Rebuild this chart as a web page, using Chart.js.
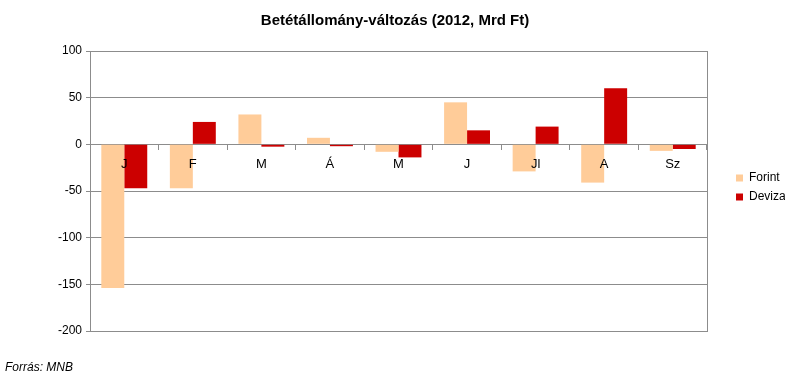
<!DOCTYPE html>
<html>
<head>
<meta charset="utf-8">
<script src="https://cdn.jsdelivr.net/npm/chart.js@4.4.0/dist/chart.umd.min.js"></script>
<style>
  html, body { margin: 0; padding: 0; background: #fff; }
  #wrap { position: relative; width: 790px; height: 375px; }
</style>
</head>
<body>
<div id="wrap"><canvas id="betetChart" width="790" height="375"></canvas></div>
<script>
const honapok = ['J', 'F', 'M', 'Á', 'M', 'J', 'Jl', 'A', 'Sz'];
const forint = [-154, -47, 32, 7, -8, 45, -29, -41, -7];
const deviza = [-47, 24, -2.5, -2, -14, 15, 19, 60, -5];
const yTicks = [100, 50, 0, -50, -100, -150, -200];

// keret a rajzterulet korul
const keret = {
    id: 'keret',
    afterDraw(chart) {
        const a = chart.chartArea;
        const c = chart.ctx;
        c.save();
        c.strokeStyle = '#8c8c8c';
        c.lineWidth = 1;
        c.strokeRect(Math.round(a.left) + 0.5, Math.round(a.top) + 0.5,
            Math.round(a.right - a.left), Math.round(a.bottom - a.top));
        c.restore();
    }
};

document.addEventListener("DOMContentLoaded", function(){
    Chart.defaults.font.family = '"Liberation Sans", Arial, sans-serif';
    Chart.defaults.color = '#000';
    const ctx = document.getElementById('betetChart').getContext('2d');
    const data = {
        labels: honapok,
        datasets: [{
            label: 'Forint',
            data: forint,
            backgroundColor: '#ffcc99',
            borderWidth: 0
        }, {
            label: 'Deviza',
            data: deviza,
            backgroundColor: '#cc0000',
            borderWidth: 0
        }]
    };

    const config = {
        type: 'bar',
        data: data,
        options: {
            responsive: false,
            animation: false,
            layout: { padding: { left: 5, right: 5, top: 0, bottom: 0 } },
            datasets: {
                bar: { categoryPercentage: 0.67, barPercentage: 1.0 }
            },
            scales: {
                x: {
                    position: { y: 0 },
                    grid: {
                        drawOnChartArea: false,
                        drawTicks: true,
                        tickLength: 5,
                        color: '#8c8c8c'
                    },
                    border: { color: '#8c8c8c' },
                    // a feliratok az oszlopok folott legyenek
                    ticks: { font: { size: 13 }, padding: 7, maxRotation: 0, z: 1 }
                },
                y: {
                    min: -200,
                    max: 100,
                    afterBuildTicks: function(axis) {
                        axis.ticks = yTicks.map(v => ({ value: v }));
                    },
                    afterFit: function(axis) { axis.width = 85; },
                    grid: { color: '#8c8c8c', tickLength: 4 },
                    border: { color: '#8c8c8c' },
                    ticks: { font: { size: 12 }, padding: 4 }
                },
                // ures tengely: helyet hagy a jelmagyarazat elott
                hely: {
                    position: 'right',
                    grid: { display: false },
                    border: { display: false },
                    ticks: { display: false },
                    afterFit: function(axis) { axis.width = 22; }
                }
            },
            plugins: {
                legend: {
                    position: 'right',
                    align: 'center',
                    maxWidth: 56,
                    labels: {
                        boxWidth: 7,
                        boxHeight: 7,
                        padding: 7,
                        font: { size: 12 }
                    }
                },
                title: {
                    display: true,
                    text: 'Betétállomány-változás (2012, Mrd Ft)',
                    font: { size: 15, weight: 'bold' },
                    padding: { top: 12, bottom: 21 }
                },
                subtitle: {
                    display: true,
                    position: 'bottom',
                    align: 'start',
                    text: 'Forrás: MNB',
                    font: { size: 12, style: 'italic' },
                    padding: { top: 29.6, bottom: 0 }
                },
                tooltip: { enabled: false }
            }
        },
        plugins: [keret]
    };

    const betetChart = new Chart(ctx, config);
});
</script>
</body>
</html>
